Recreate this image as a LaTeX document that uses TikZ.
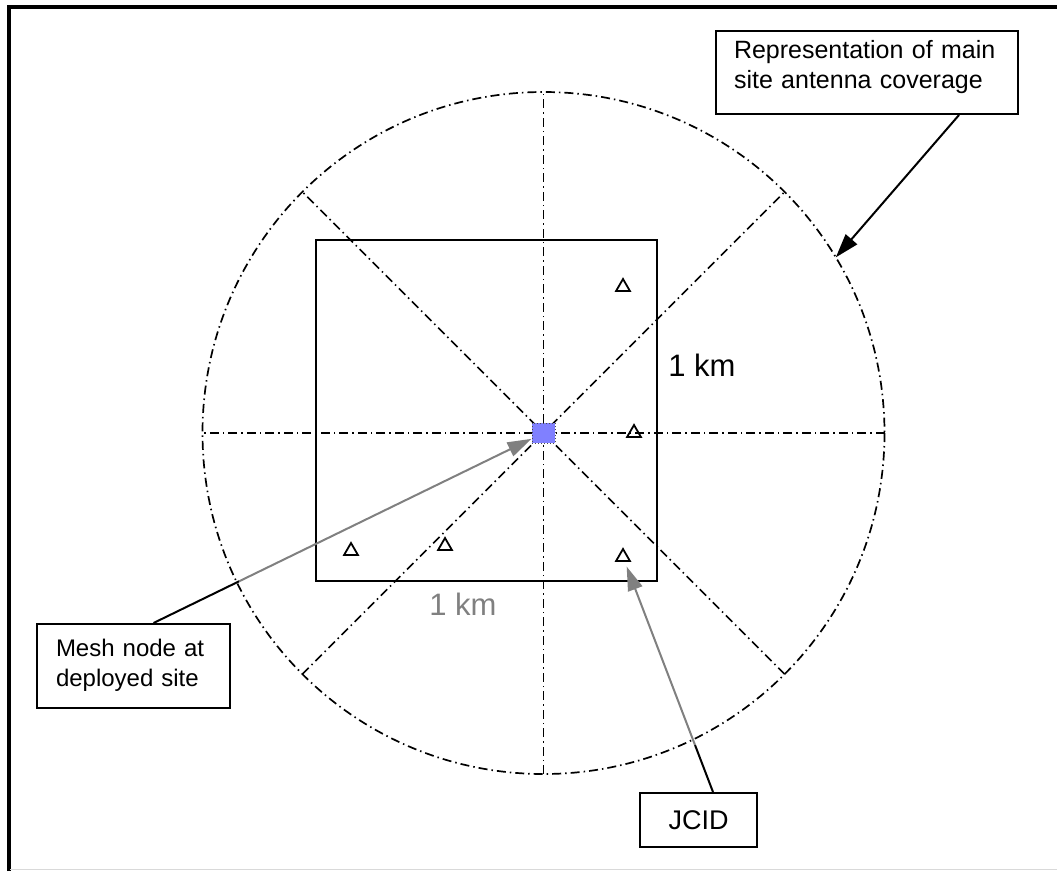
\documentclass[tikz,border=0pt]{standalone}
\usepackage{fontspec}
\setmainfont{Liberation Sans}
\usetikzlibrary{positioning, calc, shapes.geometric, arrows.meta}

\definecolor{meshblue}{RGB}{128,128,255}
\definecolor{leadgray}{RGB}{128,128,128}

\begin{document}
\begin{tikzpicture}[x=1pt, y=-1pt,
		callout/.style={draw, line width=2pt, align=left, inner xsep=19pt, font=\fontsize{24}{30}\selectfont},
		coverage/.style={line width=1.7pt, dash pattern=on 9pt off 4pt on 1.5pt off 4pt},
		site/.style={draw, line width=1.8pt, regular polygon, regular polygon sides=3, minimum size=16pt, inner sep=0pt},
		pointer/.style={line width=2pt, -{Triangle[length=24pt, width=15pt]}},
		]
		\useasboundingbox (0,0) rectangle (1057,871);
		
		%% ── Frame ──────────────────────────────────────────────────────────────
		\draw[line width=4pt] (9,871) -- (9,6.5) -- (1057,6.5);
		\draw[black!15, line width=1.5pt] (10,869.5) -- (1057,869.5);
		
		%% ── Coverage circle and axes ───────────────────────────────────────────
		\coordinate (ctr) at (543.5,433);
		\draw[coverage] (ctr) circle[radius=341];
		\foreach \a in {0,45,90,135}
			\draw[coverage] (ctr) ++(\a:341) -- ++(\a+180:682);
		\path (ctr) ++(-31:341) coordinate (covpt);
		
		%% ── 1 km area ──────────────────────────────────────────────────────────
		\draw[line width=2pt] (316,240) rectangle (657,581);
		\node[font=\fontsize{31}{36}\selectfont] (kmside) at (702,365) {1 km};
		\node[font=\fontsize{31}{36}\selectfont, text=leadgray] (kmbase) at (463,604) {1 km};
		
		\node[draw=black!70, dotted, line width=1pt, fill=meshblue, minimum width=23pt, minimum height=20pt, inner sep=0pt] (mesh) at (ctr) {};
		
		\node[site] (j1) at (623,287) {};
		\node[site] (j2) at (634,433) {};
		\node[site] (j3) at (351,551) {};
		\node[site] (j4) at (445,546) {};
		\node[site] (j5) at (623,557) {};
		
		%% ── Callouts ───────────────────────────────────────────────────────────
		\node[callout, anchor=north west, minimum width=302pt, text width=272pt,
		font=\fontsize{25}{30}\selectfont, inner xsep=15pt,
		inner ysep=9pt, text height=18pt, text depth=47pt] (rep) at (715,30)
		{\hspace*{3pt}Representation of main\\\hspace*{3pt}site antenna coverage};
		\node[callout, anchor=north west, minimum width=193pt, text width=155pt,
		inner ysep=14pt, text height=18pt, text depth=38pt] (meshbox) at (36,623)
		{Mesh node at\\deployed site};
		\node[draw, line width=2pt, minimum width=117pt, minimum height=54pt,
		font=\fontsize{27}{32}\selectfont] (jcid) at (698.5,820) {JCID};
		
		\draw[pointer] ([xshift=92pt]rep.south) -- (covpt);
		
		\coordinate (meshfoot) at ([xshift=20pt]meshbox.north);
		\coordinate (meshbend) at ($(meshfoot)!0.22!(mesh)$);
		\draw[line width=2pt] (meshfoot) -- (meshbend);
		\draw[pointer, leadgray] (meshbend) -- (mesh);
		
		\coordinate (jcidfoot) at ([xshift=14.5pt]jcid.north);
		\coordinate (jcidbend) at ($(jcidfoot)!0.2!(j5)$);
		\draw[line width=2pt] (jcidfoot) -- (jcidbend);
		\draw[pointer, leadgray, shorten >=5pt] (jcidbend) -- (j5);
		
	\end{tikzpicture}
\end{document}
